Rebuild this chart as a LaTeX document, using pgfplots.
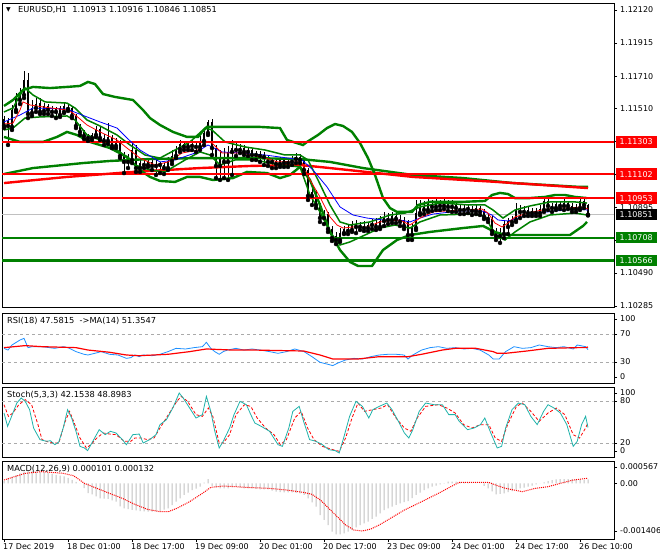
\documentclass[border=0pt]{standalone}
\usepackage{pgfplots}
\pgfplotsset{compat=1.18}
\usepackage{pgfplotstable}
\usepackage{fontspec}
\setmainfont{DejaVu Sans}
\definecolor{mtgreen}{RGB}{0,128,0}
\definecolor{mtred}{RGB}{255,0,0}
\definecolor{mtblue}{RGB}{0,0,255}
\definecolor{rsiblue}{RGB}{30,144,255}
\definecolor{stochc}{RGB}{32,178,170}
\definecolor{silverc}{RGB}{192,192,192}
\definecolor{lvl}{RGB}{170,170,170}

\pgfplotsset{
  discard if not/.style 2 args={
    x filter/.append code={
      \edef\tempa{\thisrow{#1}}%
      \edef\tempb{#2}%
      \ifx\tempa\tempb\else\def\pgfmathresult{inf}\fi
    }
  },
  mtpanel/.style={
    scale only axis, width=612bp,
    xmin=-0.5, xmax=152.5,
    axis line style={black, line width=0.9bp},
    xtick=\empty,
    ytick pos=right, yticklabel pos=right,
    tick align=outside,
    major tick length=3bp,
    tick style={black, line width=0.6bp},
    yticklabel style={font=\fontsize{8}{9}\selectfont, anchor=west, inner sep=0pt, xshift=3bp},
    scaled y ticks=false,
    anchor=south west,
  },
}

\pgfplotstableread{
i O H L C d
0 1.11444 1.11463 1.11388 1.11401 d
1 1.11401 1.11450 1.11283 1.11432 u
2 1.11395 1.11531 1.11376 1.11500 u
3 1.11500 1.11605 1.11488 1.11574 u
4 1.11562 1.11636 1.11537 1.11587 u
5 1.11593 1.11742 1.11574 1.11686 u
6 1.11686 1.11729 1.11450 1.11475 d
7 1.11481 1.11562 1.11463 1.11512 u
8 1.11512 1.11574 1.11488 1.11537 u
9 1.11543 1.11574 1.11475 1.11488 d
10 1.11494 1.11543 1.11475 1.11525 u
11 1.11525 1.11537 1.11475 1.11500 d
12 1.11500 1.11525 1.11463 1.11488 d
13 1.11488 1.11519 1.11450 1.11512 u
14 1.11512 1.11525 1.11457 1.11469 d
15 1.11488 1.11543 1.11481 1.11525 u
16 1.11519 1.11537 1.11494 1.11506 d
17 1.11512 1.11525 1.11450 1.11463 d
18 1.11463 1.11475 1.11388 1.11401 d
19 1.11401 1.11413 1.11345 1.11364 d
20 1.11364 1.11376 1.11320 1.11339 d
21 1.11339 1.11351 1.11308 1.11326 d
22 1.11326 1.11357 1.11314 1.11345 u
23 1.11345 1.11401 1.11333 1.11382 u
24 1.11382 1.11401 1.11314 1.11326 d
25 1.11326 1.11351 1.11283 1.11308 d
26 1.11308 1.11419 1.11289 1.11333 u
27 1.11333 1.11345 1.11264 1.11277 d
28 1.11277 1.11326 1.11264 1.11308 u
29 1.11308 1.11314 1.11202 1.11215 d
30 1.11215 1.11240 1.11109 1.11178 d
31 1.11178 1.11227 1.11140 1.11190 u
32 1.11190 1.11302 1.11171 1.11252 u
33 1.11252 1.11283 1.11116 1.11140 d
34 1.11140 1.11202 1.11116 1.11171 u
35 1.11171 1.11190 1.11140 1.11159 d
36 1.11159 1.11190 1.11147 1.11178 u
37 1.11178 1.11190 1.11128 1.11153 d
38 1.11153 1.11190 1.11097 1.11165 u
39 1.11165 1.11178 1.11109 1.11159 d
40 1.11159 1.11171 1.11103 1.11140 d
41 1.11140 1.11209 1.11128 1.11184 u
42 1.11184 1.11252 1.11165 1.11215 u
43 1.11215 1.11277 1.11202 1.11258 u
44 1.11258 1.11314 1.11240 1.11289 u
45 1.11289 1.11308 1.11252 1.11271 d
46 1.11271 1.11308 1.11252 1.11289 u
47 1.11289 1.11314 1.11252 1.11277 d
48 1.11277 1.11308 1.11240 1.11271 d
49 1.11271 1.11339 1.11252 1.11308 u
50 1.11308 1.11388 1.11283 1.11357 u
51 1.11357 1.11438 1.11345 1.11426 u
52 1.11426 1.11444 1.11221 1.11264 d
53 1.11264 1.11283 1.11078 1.11153 d
54 1.11153 1.11252 1.11066 1.11202 u
55 1.11202 1.11264 1.11078 1.11178 d
56 1.11178 1.11277 1.11066 1.11240 u
57 1.11240 1.11314 1.11097 1.11264 u
58 1.11264 1.11302 1.11215 1.11252 d
59 1.11252 1.11289 1.11233 1.11264 u
60 1.11264 1.11283 1.11221 1.11240 d
61 1.11240 1.11271 1.11215 1.11252 u
62 1.11252 1.11264 1.11190 1.11221 d
63 1.11221 1.11246 1.11190 1.11227 u
64 1.11227 1.11246 1.11178 1.11215 d
65 1.11215 1.11240 1.11159 1.11209 d
66 1.11209 1.11221 1.11153 1.11178 d
67 1.11178 1.11202 1.11140 1.11184 u
68 1.11184 1.11202 1.11140 1.11165 d
69 1.11165 1.11209 1.11147 1.11190 u
70 1.11190 1.11209 1.11147 1.11171 d
71 1.11171 1.11202 1.11147 1.11178 u
72 1.11178 1.11215 1.11159 1.11196 u
73 1.11196 1.11233 1.11171 1.11209 u
74 1.11209 1.11227 1.11171 1.11190 d
75 1.11190 1.11202 1.11103 1.11128 d
76 1.11128 1.11140 1.10942 1.10967 d
77 1.10967 1.11035 1.10911 1.10992 u
78 1.10992 1.11004 1.10892 1.10911 d
79 1.10911 1.10923 1.10806 1.10830 d
80 1.10830 1.10880 1.10793 1.10855 u
81 1.10855 1.10868 1.10744 1.10762 d
82 1.10762 1.10781 1.10688 1.10706 d
83 1.10719 1.10744 1.10669 1.10694 d
84 1.10694 1.10768 1.10682 1.10737 u
85 1.10737 1.10781 1.10731 1.10762 u
86 1.10762 1.10787 1.10731 1.10750 d
87 1.10756 1.10812 1.10744 1.10793 u
88 1.10793 1.10818 1.10737 1.10775 d
89 1.10775 1.10806 1.10756 1.10781 u
90 1.10781 1.10812 1.10750 1.10768 d
91 1.10768 1.10806 1.10750 1.10787 u
92 1.10787 1.10824 1.10762 1.10799 u
93 1.10799 1.10830 1.10756 1.10775 d
94 1.10775 1.10843 1.10762 1.10812 u
95 1.10812 1.10868 1.10781 1.10830 u
96 1.10830 1.10861 1.10793 1.10818 d
97 1.10818 1.10868 1.10799 1.10843 u
98 1.10843 1.10861 1.10799 1.10824 d
99 1.10824 1.10849 1.10781 1.10806 d
100 1.10818 1.10837 1.10762 1.10781 d
101 1.10806 1.10818 1.10694 1.10725 d
102 1.10725 1.10793 1.10694 1.10768 u
103 1.10768 1.10942 1.10756 1.10861 u
104 1.10861 1.10942 1.10849 1.10899 u
105 1.10899 1.10936 1.10855 1.10880 d
106 1.10880 1.10954 1.10868 1.10917 u
107 1.10917 1.10942 1.10874 1.10899 d
108 1.10899 1.10948 1.10880 1.10923 u
109 1.10923 1.10942 1.10880 1.10905 d
110 1.10905 1.10948 1.10886 1.10917 u
111 1.10917 1.10942 1.10874 1.10899 d
112 1.10899 1.10942 1.10868 1.10911 u
113 1.10911 1.10936 1.10868 1.10892 d
114 1.10892 1.10917 1.10855 1.10880 d
115 1.10880 1.10911 1.10855 1.10892 u
116 1.10892 1.10917 1.10861 1.10886 d
117 1.10886 1.10905 1.10849 1.10874 d
118 1.10874 1.10911 1.10855 1.10892 u
119 1.10892 1.10905 1.10849 1.10868 d
120 1.10868 1.10886 1.10824 1.10837 d
121 1.10837 1.10855 1.10806 1.10824 d
122 1.10824 1.10843 1.10731 1.10750 d
123 1.10750 1.10768 1.10694 1.10719 d
124 1.10719 1.10768 1.10676 1.10737 u
125 1.10731 1.10818 1.10706 1.10793 u
126 1.10775 1.10830 1.10731 1.10812 u
127 1.10806 1.10843 1.10787 1.10818 u
128 1.10818 1.10923 1.10806 1.10880 u
129 1.10880 1.10911 1.10830 1.10868 d
130 1.10868 1.10905 1.10843 1.10880 u
131 1.10880 1.10899 1.10843 1.10861 d
132 1.10861 1.10892 1.10843 1.10874 u
133 1.10874 1.10892 1.10843 1.10861 d
134 1.10861 1.10911 1.10843 1.10886 u
135 1.10880 1.10954 1.10868 1.10936 u
136 1.10936 1.10954 1.10880 1.10905 d
137 1.10905 1.10923 1.10868 1.10892 d
138 1.10892 1.10936 1.10880 1.10917 u
139 1.10917 1.10936 1.10886 1.10905 d
140 1.10905 1.10948 1.10880 1.10923 u
141 1.10923 1.10936 1.10886 1.10905 d
142 1.10905 1.10923 1.10868 1.10886 d
143 1.10886 1.10917 1.10868 1.10892 u
144 1.10892 1.10954 1.10880 1.10936 u
145 1.10936 1.10948 1.10892 1.10911 d
146 1.10913 1.10916 1.10846 1.10851 d
}\candles

\begin{document}
\begin{tikzpicture}
\path[use as bounding box] (0,0) rectangle (660bp,560bp);

% ================= MAIN PRICE PANEL =================
\begin{axis}[mtpanel, at={(2bp,253bp)}, height=304bp,
  ymin=1.102786, ymax=1.121634,
  ytick={1.12120,1.11915,1.11710,1.11510,1.11305,1.11100,1.10895,1.10690,1.10490,1.10285},
  yticklabels={1.12120,1.11915,1.11710,1.11510,,,1.10895,,1.10490,1.10285}]
% current price line
\addplot[silverc, line width=0.8bp] coordinates {(-0.5,1.10851) (152.5,1.10851)};
% wicks
\addplot[only marks, mark=none, error bars/.cd, y dir=plus, y explicit, error mark=none,
  error bar style={black, line width=0.7bp}]
  table[x=i, y=L, y error plus expr={\thisrow{H}-\thisrow{L}}] {\candles};
% body outline
\addplot[only marks, mark=none, error bars/.cd, y dir=plus, y explicit, error mark=none,
  error bar style={black, line width=2.9bp}]
  table[x=i, y expr={min(\thisrow{O},\thisrow{C})}, y error plus expr={abs(\thisrow{C}-\thisrow{O})}] {\candles};
% bull fill
\addplot[only marks, mark=none, discard if not={d}{u}, error bars/.cd, y dir=plus, y explicit, error mark=none,
  error bar style={mtgreen, line width=1.7bp, shorten <=0.6bp, shorten >=0.6bp}]
  table[x=i, y expr={min(\thisrow{O},\thisrow{C})}, y error plus expr={abs(\thisrow{C}-\thisrow{O})}] {\candles};
% bear fill
\addplot[only marks, mark=none, discard if not={d}{d}, error bars/.cd, y dir=plus, y explicit, error mark=none,
  error bar style={mtred, line width=1.7bp, shorten <=0.6bp, shorten >=0.6bp}]
  table[x=i, y expr={min(\thisrow{O},\thisrow{C})}, y error plus expr={abs(\thisrow{C}-\thisrow{O})}] {\candles};

% slow moving averages
\addplot[mtgreen, line width=2.4bp] coordinates {(0,1.11103) (7.25,1.11140) (19.75,1.11171) (26.5,1.11184) (36.5,1.11196) (49,1.11202) (61.5,1.11202) (74,1.11196) (81.5,1.11178) (89.75,1.11140) (102.25,1.11097) (114.75,1.11078) (127.25,1.11047) (144,1.11023) (146,1.11023)};
\addplot[mtred, line width=2.4bp] coordinates {(0,1.11047) (15.75,1.11085) (32.25,1.11116) (49,1.11140) (61.5,1.11153) (74,1.11159) (81.5,1.11140) (102.25,1.11085) (123.25,1.11054) (146,1.11016)};

% wide bands
\addplot[mtgreen, line width=2.4bp] coordinates {(0,1.11525) (2.25,1.11562) (4.75,1.11624) (7.25,1.11643) (11.5,1.11636) (15.75,1.11643) (19,1.11649) (21,1.11674) (22.75,1.11661) (24.75,1.11599) (27.75,1.11581) (32.25,1.11562) (34.75,1.11500) (36.5,1.11450) (39,1.11407) (42.25,1.11364) (45.75,1.11333) (48.5,1.11333) (49.75,1.11370) (50.75,1.11395) (57.25,1.11395) (64,1.11395) (69,1.11388) (70.75,1.11314) (74.75,1.11283) (75.75,1.11302) (78.5,1.11345) (80.75,1.11388) (82.75,1.11413) (84.75,1.11401) (87,1.11364) (89,1.11295) (91,1.11202) (92.75,1.11097) (94.75,1.10954) (96.5,1.10892) (98.25,1.10868) (102,1.10868) (103.5,1.10911) (106.5,1.10930) (114,1.10930) (120.25,1.10936) (122,1.10973) (124,1.10986) (126,1.10979) (127.75,1.10954) (131.5,1.10954) (135.25,1.10961) (137.75,1.10973) (140.25,1.10973) (142.75,1.10961) (145.75,1.10954)};
\addplot[mtgreen, line width=2.4bp] coordinates {(0,1.11333) (4,1.11302) (9.75,1.11302) (13.25,1.11333) (15.75,1.11364) (18.25,1.11345) (21.5,1.11302) (26.5,1.11264) (30.75,1.11209) (34,1.11128) (36.5,1.11085) (39,1.11060) (42.75,1.11054) (45.75,1.11085) (49,1.11085) (52.25,1.11066) (57.25,1.11078) (60.75,1.11116) (65.75,1.11109) (69,1.11078) (71.5,1.11097) (74,1.11147) (76.5,1.11066) (79,1.10911) (81.5,1.10744) (84,1.10632) (86.5,1.10558) (88.5,1.10533) (92,1.10533) (94.75,1.10632) (98.25,1.10694) (101.5,1.10725) (106.5,1.10744) (114.75,1.10768) (119.75,1.10781) (122.75,1.10744) (125.25,1.10725) (141.5,1.10725) (144.75,1.10781) (145.75,1.10806)};
% narrow bands
\addplot[mtgreen, line width=1.5bp] coordinates {(0,1.11488) (2.25,1.11512) (4,1.11593) (5.25,1.11637) (7.25,1.11593) (10.25,1.11550) (15.75,1.11543) (17.75,1.11512) (20.75,1.11438) (24,1.11401) (28.25,1.11345) (31.5,1.11283) (35.25,1.11221) (39,1.11202) (42.75,1.11252) (46.5,1.11302) (50.25,1.11388) (52,1.11376) (55.25,1.11302) (60.25,1.11271) (65.25,1.11252) (70.25,1.11221) (74,1.11221) (76,1.11190) (78.5,1.11066) (81.5,1.10911) (84,1.10806) (86.5,1.10787) (91.5,1.10806) (96.5,1.10849) (100.25,1.10861) (104,1.10899) (109,1.10923) (116.5,1.10911) (120.25,1.10911) (122.25,1.10880) (124.75,1.10830) (127.75,1.10880) (131.5,1.10905) (136.5,1.10930) (142.75,1.10930) (145.75,1.10923)};
\addplot[mtgreen, line width=1.5bp] coordinates {(0,1.11376) (2.25,1.11388) (5.25,1.11450) (9,1.11457) (15.75,1.11463) (17.75,1.11438) (20.75,1.11345) (24,1.11314) (29,1.11240) (32.75,1.11159) (36.5,1.11128) (40.25,1.11116) (45.25,1.11190) (49,1.11240) (51.5,1.11221) (54,1.11159) (57.75,1.11190) (62.75,1.11190) (69,1.11159) (74,1.11147) (76.5,1.10973) (79,1.10868) (81.5,1.10744) (84,1.10663) (86.5,1.10682) (90.25,1.10725) (94,1.10768) (97.75,1.10787) (101.5,1.10768) (104,1.10806) (109,1.10849) (116.5,1.10855) (120.25,1.10843) (122.75,1.10725) (125.25,1.10694) (127.75,1.10744) (131.5,1.10806) (136.5,1.10849) (142.75,1.10861) (145.75,1.10849)};

% horizontal levels
\addplot[mtred, line width=2.4bp] coordinates {(-0.5,1.11303) (152.5,1.11303)};
\addplot[mtred, line width=2.4bp] coordinates {(-0.5,1.11102) (152.5,1.11102)};
\addplot[mtred, line width=2.4bp] coordinates {(-0.5,1.10953) (152.5,1.10953)};
\addplot[mtgreen, line width=2.4bp] coordinates {(-0.5,1.10708) (152.5,1.10708)};
\addplot[mtgreen, line width=2.4bp] coordinates {(-0.5,1.10566) (152.5,1.10566)};

% fast moving averages
\addplot[mtblue, line width=0.8bp] coordinates {(0,1.11426) (4,1.11469) (7.25,1.11512) (15.75,1.11506) (18.25,1.11481) (24,1.11426) (28.25,1.11388) (30.75,1.11326) (34,1.11252) (39,1.11178) (42.75,1.11190) (47.75,1.11233) (51,1.11283) (54.5,1.11240) (59.5,1.11233) (65.25,1.11221) (71,1.11202) (74.5,1.11190) (77.25,1.11128) (80.75,1.11023) (84,1.10899) (87.25,1.10849) (90.75,1.10830) (94.75,1.10818) (99,1.10818) (101.5,1.10806) (104,1.10830) (107.25,1.10855) (114,1.10874) (119.5,1.10874) (122,1.10849) (123.5,1.10818) (126,1.10812) (129.5,1.10837) (133.5,1.10861) (137.75,1.10874) (142.75,1.10886) (146,1.10880)};
\addplot[mtred, line width=0.8bp] coordinates {(0,1.11413) (2.25,1.11419) (4,1.11500) (4.75,1.11550) (6.5,1.11531) (9.75,1.11519) (15.75,1.11500) (17.25,1.11481) (20.75,1.11407) (24,1.11364) (28.25,1.11314) (30.75,1.11264) (34,1.11202) (37.75,1.11159) (41,1.11178) (44.5,1.11233) (48.5,1.11252) (50.75,1.11302) (52,1.11295) (54.5,1.11233) (59.5,1.11233) (65.25,1.11202) (68.5,1.11178) (72.75,1.11184) (74.5,1.11171) (76.5,1.11066) (79,1.10961) (81.5,1.10837) (83.25,1.10787) (84.75,1.10768) (87.25,1.10775) (90.75,1.10775) (94,1.10806) (99,1.10818) (101.5,1.10787) (104,1.10830) (107.25,1.10868) (114,1.10880) (119.5,1.10886) (121,1.10861) (122.75,1.10799) (124.5,1.10775) (126,1.10799) (127.75,1.10837) (131,1.10861) (134.5,1.10880) (137.75,1.10892) (141,1.10892) (144.5,1.10899) (146,1.10886)};
\end{axis}

% ================= RSI PANEL =================
\begin{axis}[mtpanel, at={(2bp,177bp)}, height=70bp, ymin=0, ymax=100,
  ytick={8.6,30,70,91.4}, yticklabels={0,30,70,100}]
\addplot[lvl, dashed, line width=0.6bp] coordinates {(-0.5,70) (152.5,70)};
\addplot[lvl, dashed, line width=0.6bp] coordinates {(-0.5,30) (152.5,30)};
\addplot[rsiblue, line width=0.8bp] coordinates {(0,49.5) (1,47.1) (2,54.3) (4,61.4) (5,63.8) (6,50.5) (7,51.9) (9.5,51.9) (12.7,49.5) (14.8,51.9) (16,50.5) (18,44.8) (20,41) (21,40) (22.7,42.4) (24.3,44.8) (26.4,41) (28.5,40) (30.6,35.2) (31.7,36.2) (32.7,40) (33.8,37.6) (34.8,40) (37,39) (39,41) (41,44.8) (43,49.5) (45.4,48.6) (47.5,50.5) (49.6,51.9) (50.6,58.1) (51.7,49.5) (52.7,44.8) (53.8,41) (54.8,44.8) (55.9,47.1) (58,49.5) (60,47.1) (62,48.6) (64,47.1) (66.4,44.8) (68.5,42.4) (70.6,44.8) (72.7,48.6) (75,44.8) (77,37.6) (79,29.5) (81,26.7) (82.2,24.8) (83.3,28.1) (85.4,32.9) (87.5,35.2) (89.6,34.3) (91.7,37.6) (93.8,40) (96,41) (98,41) (100,40) (101,34.3) (102.2,40) (104.4,47.1) (106.5,50.5) (108.6,51.9) (110.7,49.5) (112.8,50.5) (115,48.6) (117,49.5) (119,47.1) (121.2,40) (122.3,34.3) (123.8,34.3) (125.4,44.8) (127.5,51.9) (129.6,49.5) (131.7,50.5) (133.8,54.3) (136,51.9) (138,50.5) (140,51.9) (142.3,48.6) (143.3,54.3) (145.4,51.9) (146,47.58)};
\addplot[mtred, line width=1.2bp] coordinates {(0,50.5) (5.3,53.4) (9.5,51.9) (18,50.5) (21,47.1) (26.4,43.9) (30.6,40) (33.8,39) (41,41) (46.4,44.8) (50.6,48.6) (57,47.1) (62.2,47.1) (74.9,45.7) (79,40) (82.2,34.3) (88.5,34.3) (93.8,37.6) (101,37.6) (104.4,41) (109.6,47.1) (112.8,49.5) (118,49.5) (122.3,44.8) (123.3,42.4) (125.4,42.4) (130.7,45.7) (136,49.5) (143.3,50.5) (145.4,50.5) (146,51.35)};
\end{axis}

% ================= STOCHASTIC PANEL =================
\begin{axis}[mtpanel, at={(2bp,103bp)}, height=70bp, ymin=0, ymax=100,
  ytick={8.6,20,80,91.4}, yticklabels={0,20,80,100}]
\addplot[lvl, dashed, line width=0.6bp] coordinates {(-0.5,80) (152.5,80)};
\addplot[lvl, dashed, line width=0.6bp] coordinates {(-0.5,20) (152.5,20)};
\addplot[mtred, densely dashed, line width=0.8bp] coordinates {(0,74.7) (1.1,58.1) (2.2,62.8) (3.7,74.7) (5.3,81.9) (6.9,74.7) (8.5,46.2) (9.5,24.8) (11.1,21.4) (12.7,20) (13.7,20) (15.3,50.9) (16.4,65.2) (17.4,50.9) (19,27.1) (20.6,12.9) (21.7,17.6) (23.2,27.1) (24.8,34.3) (26.4,32.8) (28,31.9) (30.1,22.4) (31.7,22.4) (32.7,27.1) (34.3,27.1) (35.9,24.8) (37.5,27.1) (39,41.4) (41.1,60.5) (43.2,79.5) (44.3,86.6) (45.9,79.5) (48,60.5) (49.6,58.1) (51.1,70) (52.2,58.1) (53.8,20) (54.8,20) (56.4,31.9) (58,60.5) (60.1,74.7) (61.7,72.3) (63.3,55.7) (65.4,41.4) (67.5,31.9) (69.1,17.6) (70.6,24.8) (72.7,55.7) (74.3,65.2) (75.9,41.4) (77.5,24.8) (79.6,15.2) (82.2,10.5) (83.8,8.1) (85.4,27.1) (87,55.7) (88.5,77.1) (90.1,65.2) (92.2,67.6) (94.3,70) (95.9,74.7) (98,55.7) (100.1,41.4) (101.7,36.7) (103.3,55.7) (105.4,72.3) (108.6,74.7) (110.7,70) (112.8,62.8) (114.9,46.2) (117,41.4) (119.1,46.2) (121.2,46.2) (122.8,27.1) (124.4,22.4) (125.9,46.2) (128.1,72.3) (129.6,77.1) (131.7,65.2) (133.8,50.9) (136,62.8) (138.1,70) (140.2,60.5) (142.3,31.9) (143.9,27.1) (145.4,41.4) (146,48.9)};
\addplot[stochc, line width=0.8bp] coordinates {(0,62.8) (0.9,43.8) (1.9,58.1) (3.2,77.1) (4.3,84.3) (5.3,79.5) (6.4,67.6) (7.4,41.4) (9,24.8) (10.6,22.4) (11.6,23.3) (12.7,17.6) (13.7,21.4) (14.8,41.4) (15.9,67.6) (16.9,55.7) (18,36.7) (19,15.2) (20.1,12.9) (20.9,9.1) (22.2,22.4) (23.8,39) (25.3,31.9) (26.6,36.7) (28,34.3) (29.6,24.8) (30.6,17.6) (32.2,31.9) (33.8,32.8) (34.8,20) (36.4,24.8) (38,31.9) (39,46.2) (40.6,53.3) (42.2,70) (43.8,91.4) (44.8,84.3) (46.4,70) (48,55.7) (49.6,60.5) (50.6,86.6) (51.7,65.2) (52.7,36.7) (53.8,12.9) (54.8,22.4) (56.4,41.4) (57.5,60.5) (59,79.5) (60.6,74.7) (61.7,60.5) (62.7,48.6) (64.3,43.8) (66.4,36.7) (68.5,17.6) (69.6,15.2) (71.2,41.4) (72.2,65.2) (73.8,72.3) (74.9,50.9) (76.4,24.8) (78,22.4) (79.6,17.6) (81.2,10.5) (82.8,9.1) (83.8,5.7) (84.9,27.1) (86.4,58.1) (88,79.5) (89.6,72.3) (91.2,55.7) (92.2,67.6) (93.8,72.3) (95.7,77.1) (97,67.6) (98.6,50.9) (100.1,34.3) (101.2,27.1) (102.2,39) (103.8,65.2) (105.4,77.1) (107.5,74.7) (109.6,74.7) (111.2,60.5) (112.8,60.5) (113.8,50.9) (115.9,39) (117.5,41.4) (119.1,46.2) (120.2,55.7) (121.7,34.3) (123.3,12.9) (124.4,15.2) (125.4,41.4) (127,67.6) (128.6,77.1) (130.2,74.7) (131.7,58.1) (133.3,46.2) (134.9,65.2) (136,74.7) (137.5,70) (139.1,62.8) (140.7,46.2) (142.3,15.2) (143.3,22.4) (144.4,46.2) (145.4,58.1) (146,42.15)};
\end{axis}

% ================= MACD PANEL =================
\begin{axis}[mtpanel, at={(2bp,21bp)}, height=78bp, ymin=-0.001406, ymax=0.000567,
  ytick={-0.001204,0,0.000415}, yticklabels={-0.001406,0.00,0.000567},
  xtick={0,16,32,48,64,80,96,112,128,144},
  xticklabels={17 Dec 2019,18 Dec 01:00,18 Dec 17:00,19 Dec 09:00,20 Dec 01:00,20 Dec 17:00,23 Dec 09:00,24 Dec 01:00,24 Dec 17:00,26 Dec 10:00},
  xtick pos=bottom,
  xticklabel style={font=\fontsize{8}{9}\selectfont, anchor=north west, inner sep=0pt, xshift=-1bp, yshift=-1bp}]
\addplot[ybar, bar width=1bp, fill=silverc, draw=none] coordinates {(0,0.000060) (1,0.000128) (2,0.000170) (3,0.000212) (4,0.000255) (5,0.000297) (6,0.000339) (7,0.000314) (8,0.000305) (9,0.000297) (10,0.000285) (11,0.000260) (12,0.000240) (13,0.000215) (14,0.000195) (15,0.000175) (16,0.000140) (17,0.000090) (18,0.000040) (19,0.000000) (20,-0.000120) (21,-0.000245) (22,-0.000275) (23,-0.000330) (24,-0.000378) (25,-0.000385) (26,-0.000394) (27,-0.000430) (28,-0.000462) (29,-0.000580) (30,-0.000631) (31,-0.000650) (32,-0.000670) (33,-0.000685) (34,-0.000698) (35,-0.000705) (36,-0.000712) (37,-0.000715) (38,-0.000710) (39,-0.000698) (40,-0.000665) (41,-0.000631) (42,-0.000550) (43,-0.000462) (44,-0.000380) (45,-0.000293) (46,-0.000230) (47,-0.000167) (48,-0.000130) (49,-0.000083) (50,0.000020) (51,0.000111) (52,-0.000060) (53,-0.000100) (54,-0.000125) (55,-0.000125) (56,-0.000125) (57,-0.000100) (58,-0.000083) (59,-0.000105) (60,-0.000125) (61,-0.000125) (62,-0.000125) (63,-0.000138) (64,-0.000150) (65,-0.000150) (66,-0.000150) (67,-0.000180) (68,-0.000209) (69,-0.000218) (70,-0.000226) (71,-0.000226) (72,-0.000226) (73,-0.000238) (74,-0.000251) (75,-0.000293) (76,-0.000378) (77,-0.000480) (78,-0.000588) (79,-0.000799) (80,-0.000920) (81,-0.001052) (82,-0.001221) (83,-0.001289) (84,-0.001289) (85,-0.001263) (86,-0.001220) (87,-0.001179) (88,-0.001110) (89,-0.001052) (90,-0.001010) (91,-0.000968) (92,-0.000900) (93,-0.000841) (94,-0.000760) (95,-0.000673) (96,-0.000630) (97,-0.000588) (98,-0.000545) (99,-0.000504) (100,-0.000475) (101,-0.000445) (102,-0.000370) (103,-0.000293) (104,-0.000230) (105,-0.000167) (106,-0.000125) (107,-0.000083) (108,-0.000055) (109,-0.000025) (110,0.000010) (111,0.000044) (112,0.000044) (113,0.000044) (114,0.000035) (115,0.000027) (116,0.000015) (117,0.000002) (118,0.000002) (119,0.000002) (120,-0.000060) (121,-0.000125) (122,-0.000200) (123,-0.000276) (124,-0.000265) (125,-0.000251) (126,-0.000220) (127,-0.000192) (128,-0.000160) (129,-0.000125) (130,-0.000105) (131,-0.000083) (132,-0.000055) (133,-0.000025) (134,0.000000) (135,0.000027) (136,0.000055) (137,0.000086) (138,0.000100) (139,0.000111) (140,0.000111) (141,0.000111) (142,0.000111) (143,0.000111) (144,0.000100) (145,0.000090) (146,0.000101)};
\addplot[mtred, densely dotted, line width=1bp] coordinates {(0,0.000086) (5.3,0.000255) (9.5,0.000297) (14.8,0.000255) (17.4,0.000195) (20.1,0.000002) (23.2,-0.000125) (26.4,-0.000251) (29.6,-0.000378) (32.7,-0.000530) (35.9,-0.000657) (39,-0.000715) (41.1,-0.000715) (43.2,-0.000631) (46.4,-0.000462) (49.6,-0.000251) (51.7,-0.000100) (54.8,-0.000066) (58,-0.000083) (62.2,-0.000108) (66.4,-0.000125) (70.6,-0.000167) (74.9,-0.000226) (77,-0.000276) (79.1,-0.000420) (81.2,-0.000631) (83.3,-0.000841) (85.4,-0.001052) (87.5,-0.001179) (89.6,-0.001204) (91.7,-0.001154) (93.8,-0.001052) (95.9,-0.000926) (98,-0.000799) (100.1,-0.000673) (104.4,-0.000462) (108.6,-0.000251) (111.7,-0.000083) (113.8,0.000027) (117,0.000027) (121.2,0.000027) (123.3,-0.000057) (125.4,-0.000125) (129.6,-0.000209) (132.8,-0.000125) (136,-0.000083) (139.1,0.000002) (142.3,0.000086) (146,0.000132)};
\end{axis}

% ================= TEXTS =================
\node[anchor=west, inner sep=0pt, font=\fontsize{6}{7}\selectfont] at (6bp,550bp) {▼};
\node[anchor=west, inner sep=0pt, font=\fontsize{8.3}{10}\selectfont] at (18bp,550bp) {EURUSD,H1\ \ 1.10913 1.10916 1.10846 1.10851};
\node[anchor=west, inner sep=0pt, font=\fontsize{8.3}{10}\selectfont] at (7bp,239bp) {RSI(18) 47.5815\ \ ->MA(14) 51.3547};
\node[anchor=west, inner sep=0pt, font=\fontsize{8.3}{10}\selectfont] at (7bp,165bp) {Stoch(5,3,3) 42.1538 48.8983};
\node[anchor=west, inner sep=0pt, font=\fontsize{8.3}{10}\selectfont] at (7bp,91bp) {MACD(12,26,9) 0.000101 0.000132};

% price boxes on the right scale
\tikzset{pbox/.style={anchor=west, inner xsep=4bp, inner ysep=0pt, minimum height=11.5bp, text=white, font=\fontsize{8}{9}\selectfont}}
\node[pbox, fill=mtred] at (615.5bp,418.2bp) {1.11303};
\node[pbox, fill=mtred] at (615.5bp,385.8bp) {1.11102};
\node[pbox, fill=mtred] at (615.5bp,361.8bp) {1.10953};
\node[pbox, fill=black] at (615.5bp,345.3bp) {1.10851};
\node[pbox, fill=mtgreen] at (615.5bp,322.3bp) {1.10708};
\node[pbox, fill=mtgreen] at (615.5bp,299.4bp) {1.10566};
\end{tikzpicture}
\end{document}
